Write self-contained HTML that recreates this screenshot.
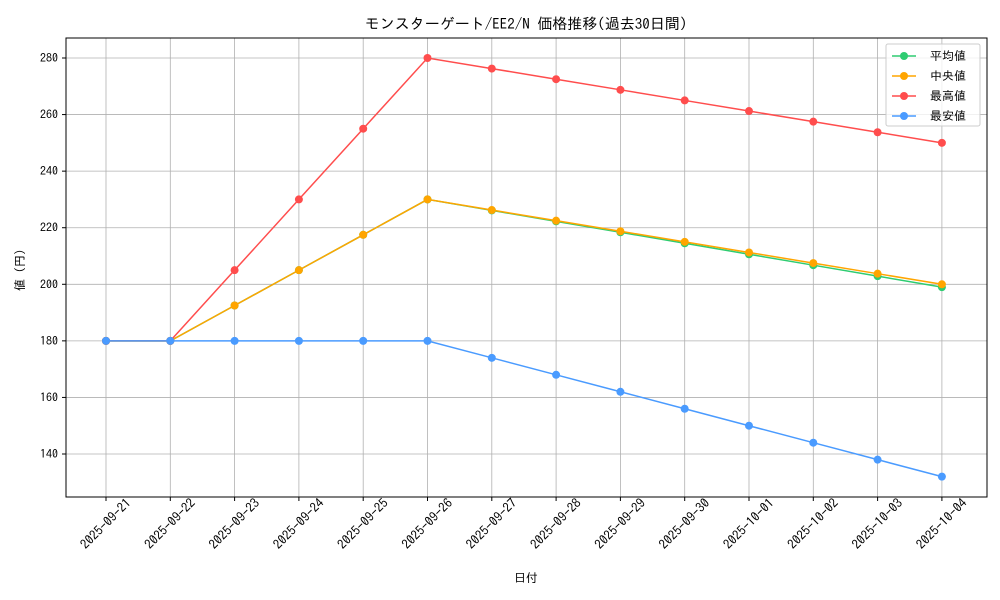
<!DOCTYPE html>
<html><head><meta charset="utf-8"><style>
body{margin:0;background:#fff;}
svg{display:block;font-family:"IPAGothic","Noto Sans CJK JP",sans-serif;}
</style></head><body>
<svg width="1000" height="600" viewBox="0 0 1000 600" xmlns="http://www.w3.org/2000/svg">
<rect width="1000" height="600" fill="#fff"/>
<text x="526" y="29" font-size="15" text-anchor="middle" fill="#000">モンスターゲート/EE2/N 価格推移(過去30日間)</text>
<g id="grid" stroke="#b0b0b0" stroke-width="0.8"></g>
<rect x="66" y="38" width="921" height="459" fill="none" stroke="#000" stroke-width="1"/>
<g id="ticks" font-size="12" fill="#000"></g>
<g id="series"></g>
<text x="526" y="582" font-size="12" text-anchor="middle">日付</text>
<text x="24" y="270" font-size="12" text-anchor="middle" transform="rotate(-90 24 270)">値 (円)</text>
<g>
<rect x="886" y="44" width="94" height="82" fill="#fff" fill-opacity="0.8" stroke="#ccc" rx="2"/>
<line x1="892" y1="56" x2="916" y2="56" stroke="#2ecc71" stroke-width="1.5"/><circle cx="904" cy="56" r="4" fill="#2ecc71"/><text x="930" y="60" font-size="12">平均値</text>
<line x1="892" y1="76" x2="916" y2="76" stroke="#ffa500" stroke-width="1.5"/><circle cx="904" cy="76" r="4" fill="#ffa500"/><text x="930" y="80" font-size="12">中央値</text>
<line x1="892" y1="96" x2="916" y2="96" stroke="#ff4d4d" stroke-width="1.5"/><circle cx="904" cy="96" r="4" fill="#ff4d4d"/><text x="930" y="100" font-size="12">最高値</text>
<line x1="892" y1="116" x2="916" y2="116" stroke="#4a9bff" stroke-width="1.5"/><circle cx="904" cy="116" r="4" fill="#4a9bff"/><text x="930" y="120" font-size="12">最安値</text>
</g>
<script>
const NS="http://www.w3.org/2000/svg";
const X=i=>106+i*64.3, Y=v=>58+(280-v)*2.8286;
const g=document.getElementById('grid'),t=document.getElementById('ticks'),s=document.getElementById('series');
function el(p,n,a,txt){const e=document.createElementNS(NS,n);for(const k in a)e.setAttribute(k,a[k]);if(txt)e.textContent=txt;p.appendChild(e);return e;}
const dates=["2025-09-21","2025-09-22","2025-09-23","2025-09-24","2025-09-25","2025-09-26","2025-09-27","2025-09-28","2025-09-29","2025-09-30","2025-10-01","2025-10-02","2025-10-03","2025-10-04"];
dates.forEach((d,i)=>{const x=X(i);el(g,'line',{x1:x,y1:38,x2:x,y2:497});el(t,'line',{x1:x,y1:497,x2:x,y2:501,stroke:'#000'});
const cy=524;el(t,'text',{x:x,y:cy+4,'font-size':13,'text-anchor':'middle',transform:`rotate(-45 ${x} ${cy})`},d);});
for(let v=140;v<=280;v+=20){const y=Y(v);el(g,'line',{x1:66,y1:y,x2:987,y2:y});el(t,'line',{x1:62,y1:y,x2:66,y2:y,stroke:'#000'});el(t,'text',{x:58,y:y+4,'text-anchor':'end'},String(v));}
const mx=[180,180,205,230,255,280],mn=[180,180,180,180,180,180],md=[180,180,192.5,205,217.5,230],me=md.slice();
for(let k=1;k<=8;k++){mx.push(280-3.75*k);mn.push(180-6*k);md.push(230-3.75*k);me.push(230-3.875*k);}
[[me,'#2ecc71'],[md,'#ffa500'],[mx,'#ff4d4d'],[mn,'#4a9bff']].forEach(([d,c])=>{
el(s,'polyline',{points:d.map((v,i)=>X(i)+','+Y(v)).join(' '),fill:'none',stroke:c,'stroke-width':1.5});
d.forEach((v,i)=>el(s,'circle',{cx:X(i),cy:Y(v),r:4,fill:c}));});
</script>
</svg>
</body></html>
